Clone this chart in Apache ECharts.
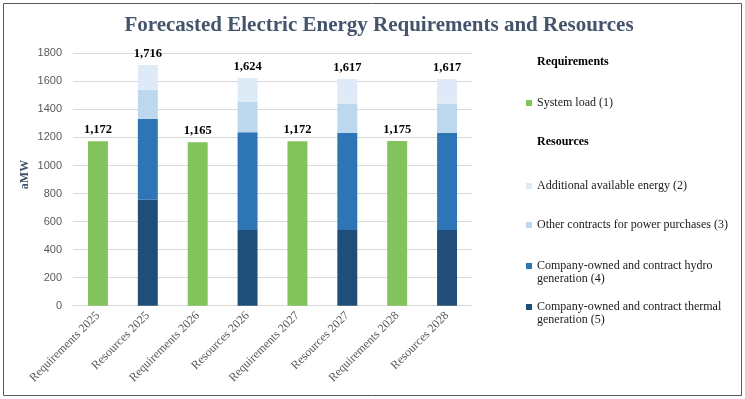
<!DOCTYPE html>
<html>
<head>
<meta charset="utf-8">
<script src="https://cdn.jsdelivr.net/npm/echarts@6/dist/echarts.min.js"></script>
<style>
html,body{margin:0;padding:0;background:#fff;}
#main{width:745px;height:399px;}
</style>
</head>
<body>
<div id="main"></div>
<script>
// categories and values (aMW)
var categories = ['Requirements 2025', 'Resources 2025', 'Requirements 2026', 'Resources 2026',
                  'Requirements 2027', 'Resources 2027', 'Requirements 2028', 'Resources 2028'];
var systemLoad     = [1172, null, 1165, null, 1172, null, 1175, null];
var thermal        = [null, 755, null, 540, null, 540, null, 540];
var hydro          = [null, 577, null, 697, null, 692, null, 692];
var otherContracts = [null, 207, null, 216, null, 209, null, 209];
var additional     = [null, 177, null, 171, null, 176, null, 176];
var totals         = [1172, 1716, 1165, 1624, 1172, 1617, 1175, 1617];
var yTicks = { min: 0, max: 1800, interval: 200 };

var SERIF = '"Liberation Serif", "Times New Roman", serif';
var names = {
    load: 'System load (1)',
    add: 'Additional available energy (2)',
    other: 'Other contracts for power purchases (3)',
    hydro: 'Company-owned and contract hydro generation (4)',
    thermal: 'Company-owned and contract thermal generation (5)'
};
// first line only in legend, the rest is put underneath as a text
var firstLine = {};
firstLine[names.hydro] = 'Company-owned and contract hydro';
firstLine[names.thermal] = 'Company-owned and contract thermal';

function fmt(n){ return n.toString().replace(/\B(?=(\d{3})+(?!\d))/g, ','); }

var totalLabel = {
    show: true, position: 'top', distance: 5,
    fontFamily: SERIF, fontWeight: 'bold', fontSize: 12.5, color: '#000',
    formatter: function(p){ return fmt(totals[p.dataIndex]); }
};

function legendAt(name, top){
    return {
        data: [name], left: 521, top: top, itemWidth: 6, itemHeight: 6,
        icon: 'rect', selectedMode: false,
        textStyle: { fontFamily: SERIF, fontSize: 12, color: '#1a1a1a' },
        formatter: function(n){ return firstLine[n] || n; }
    };
}

var chart = echarts.init(document.getElementById('main'));
var option = {
    animation: false,
    title: {
        text: 'Forecasted Electric Energy Requirements and Resources',
        left: 374, textAlign: 'center', top: 10,
        textStyle: { fontFamily: SERIF, fontWeight: 'bold', fontSize: 21, color: '#44546A' }
    },
    legend: [
        legendAt(names.load, 92),
        legendAt(names.add, 175),
        legendAt(names.other, 214),
        legendAt(names.hydro, 255),
        legendAt(names.thermal, 296)
    ],
    grid: { left: 73, right: 273, top: 53.3, bottom: 93.3 },
    xAxis: {
        type: 'category', data: categories,
        axisLine: { lineStyle: { color: '#D9D9D9' } },
        axisTick: { show: false },
        axisLabel: { rotate: 45, interval: 0, margin: 8, fontFamily: SERIF, fontSize: 12, color: '#595959' }
    },
    yAxis: {
        type: 'value', min: yTicks.min, max: yTicks.max, interval: yTicks.interval,
        name: 'aMW', nameLocation: 'middle', nameGap: 42, nameRotate: 90, nameMoveOverlap: false,
        nameTextStyle: { fontFamily: SERIF, fontWeight: 'bold', fontSize: 12, color: '#44546A', padding: [0, 0, 0, 10] },
        axisLabel: { fontFamily: '"Liberation Sans", Arial, sans-serif', fontSize: 11, color: '#595959', margin: 11,
                     formatter: function(v){ return String(v); } },
        splitLine: { lineStyle: { color: '#D9D9D9' } }
    },
    series: [
        { name: names.load, type: 'bar', stack: 'all', barWidth: '40%', data: systemLoad,
          itemStyle: { color: '#82C35B' }, label: totalLabel },
        { name: names.thermal, type: 'bar', stack: 'all', data: thermal, itemStyle: { color: '#1F4E79' } },
        { name: names.hydro, type: 'bar', stack: 'all', data: hydro, itemStyle: { color: '#2E75B6' } },
        { name: names.other, type: 'bar', stack: 'all', data: otherContracts, itemStyle: { color: '#BDD7EE' } },
        { name: names.add, type: 'bar', stack: 'all', data: additional, itemStyle: { color: '#DEEBF7' },
          label: totalLabel }
    ],
    graphic: [
        { type: 'rect', shape: { x: 3.5, y: 3.5, width: 738, height: 392 },
          style: { fill: null, stroke: '#595959', lineWidth: 1 }, silent: true },
        { type: 'text', left: 537, top: 56,
          style: { text: 'Requirements', fontFamily: SERIF, fontWeight: 'bold', fontSize: 12, fill: '#000' } },
        { type: 'text', left: 537, top: 136,
          style: { text: 'Resources', fontFamily: SERIF, fontWeight: 'bold', fontSize: 12, fill: '#000' } },
        { type: 'text', left: 537, top: 273,
          style: { text: 'generation (4)', fontFamily: SERIF, fontSize: 12, fill: '#1a1a1a' } },
        { type: 'text', left: 537, top: 314,
          style: { text: 'generation (5)', fontFamily: SERIF, fontSize: 12, fill: '#1a1a1a' } }
    ]
};
chart.setOption(option);
</script>
</body>
</html>
